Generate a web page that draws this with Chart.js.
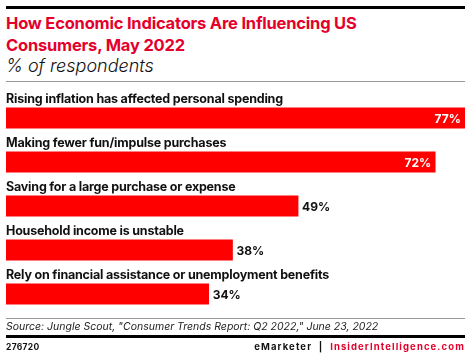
<!DOCTYPE html>
<html>
<head>
<meta charset="utf-8">
<script src="https://cdn.jsdelivr.net/npm/chart.js@4"></script>
<style>
  html,body{margin:0;padding:0;background:#fff;width:470px;height:357px;overflow:hidden;font-family:Inter, "Open Sans", sans-serif;}
  .abs{position:absolute;white-space:nowrap;}
  #topline{left:6px;top:6px;width:459px;height:3px;background:#000;}
  #title{left:6px;top:12px;font-weight:700;font-size:16.5px;line-height:22px;color:#e4002b;letter-spacing:-0.2px;}
  #subtitle{left:6px;top:55px;font-style:italic;font-size:18px;line-height:22px;color:#111;font-weight:300;}
  #grayline1{left:6px;top:81px;width:459px;height:1px;background:#999;}
  #chartbox{left:0;top:82px;width:470px;height:238px;}
  #grayline2{left:6px;top:318px;width:459px;height:1px;background:#999;}
  #source{left:6px;top:320px;font-style:italic;font-size:10.5px;line-height:14px;color:#222;}
  #blackline{left:6px;top:335px;width:459px;height:3px;background:#000;}
  #code{left:6px;top:341px;font-weight:700;font-size:8.5px;line-height:12px;color:#111;letter-spacing:0.3px;}
  #brand{right:5px;top:341px;font-weight:700;font-size:9.5px;line-height:12px;color:#111;letter-spacing:1.1px;}
  #brand .ii{color:#e4002b;}
</style>
</head>
<body>
<div class="abs" id="topline"></div>
<div class="abs" id="title">How Economic Indicators Are Influencing US<br>Consumers, May 2022</div>
<div class="abs" id="subtitle">% of respondents</div>
<div class="abs" id="grayline1"></div>
<div class="abs" id="chartbox"><canvas id="c" width="470" height="238"></canvas></div>
<div class="abs" id="grayline2"></div>
<div class="abs" id="source">Source: Jungle Scout, "Consumer Trends Report: Q2 2022," June 23, 2022</div>
<div class="abs" id="blackline"></div>
<div class="abs" id="code">276720</div>
<div class="abs" id="brand">eMarketer &nbsp;|&nbsp; <span class="ii">InsiderIntelligence.com</span></div>
<script>
const categories = [
  "Rising inflation has affected personal spending",
  "Making fewer fun/impulse purchases",
  "Saving for a large purchase or expense",
  "Household income is unstable",
  "Rely on financial assistance or unemployment benefits"
];
const values = [77, 72, 49, 38, 34];
const valueLabels = ["77%", "72%", "49%", "38%", "34%"];

const labelPlugin = {
  id: 'labelPlugin',
  afterDatasetsDraw(chart) {
    const ctx = chart.ctx;
    const meta = chart.getDatasetMeta(0);
    const xs = chart.scales.x;
    ctx.save();
    meta.data.forEach((bar, i) => {
      const top = bar.y - bar.height / 2;
      ctx.font = '700 12.5px Inter, "Open Sans", sans-serif';
      if ('letterSpacing' in ctx) ctx.letterSpacing = '-0.2px';
      ctx.fillStyle = '#111';
      ctx.textAlign = 'left';
      ctx.textBaseline = 'alphabetic';
      ctx.fillText(categories[i], xs.left, top - 4.5);
      if ('letterSpacing' in ctx) ctx.letterSpacing = '0px';
      ctx.font = '700 12px Inter, "Open Sans", sans-serif';
      ctx.textBaseline = 'middle';
      if (values[i] >= 60) {
        ctx.fillStyle = '#fff';
        ctx.textAlign = 'right';
        ctx.fillText(valueLabels[i], bar.x - 4, bar.y + 1);
      } else {
        ctx.fillStyle = '#111';
        ctx.textAlign = 'left';
        ctx.fillText(valueLabels[i], bar.x + 4, bar.y + 1);
      }
    });
    ctx.restore();
  }
};

new Chart(document.getElementById('c'), {
  type: 'bar',
  data: {
    labels: categories,
    datasets: [{
      data: values,
      backgroundColor: '#fe0000',
      borderWidth: 0,
      barThickness: 20.5
    }]
  },
  options: {
    indexAxis: 'y',
    responsive: false,
    animation: false,
    layout: { padding: { left: 6, right: 5, top: 14, bottom: 4 } },
    plugins: { legend: { display: false }, tooltip: { enabled: false }, title: { display: false } },
    scales: {
      x: { display: false, min: 0, max: Math.max(...values) },
      y: { display: false }
    }
  },
  plugins: [labelPlugin]
});
</script>
</body>
</html>
